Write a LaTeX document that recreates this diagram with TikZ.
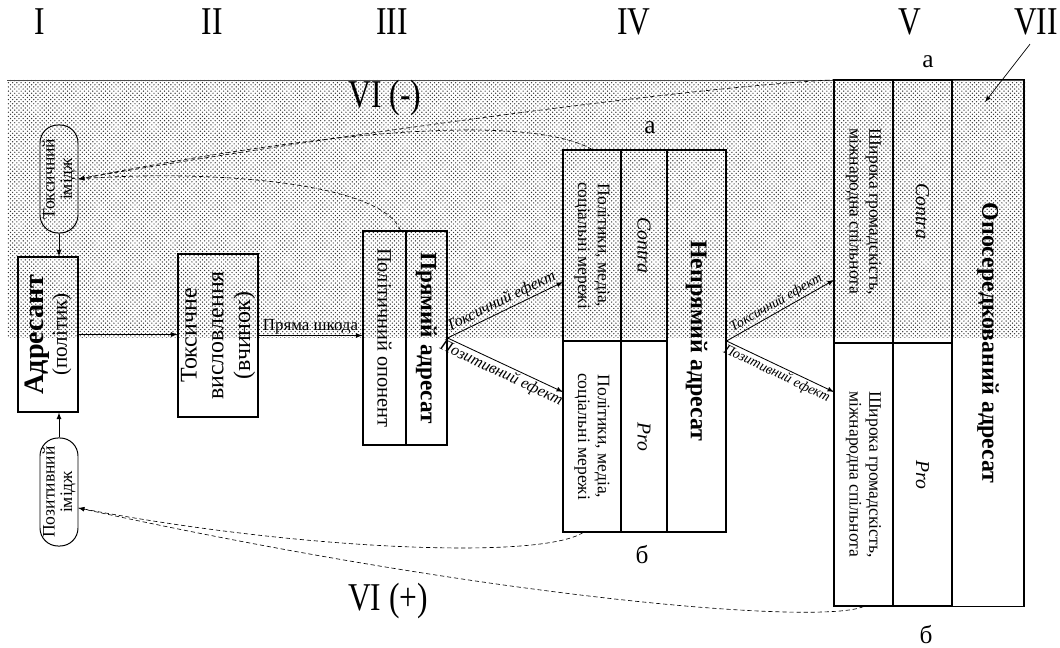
\documentclass[tikz,border=0pt]{standalone}
\usepackage{fontspec}
\setmainfont{Liberation Serif}
\usetikzlibrary{patterns,calc}

\tikzset{
  box/.style={draw, line width=0.8pt, inner sep=0pt},
  oval/.style={draw, line width=0.7pt, rounded corners=0.45cm, inner sep=0pt,
    minimum width=0.95cm, minimum height=2.7cm},
  up/.style={rotate=90, align=center, inner sep=0pt},
  down/.style={rotate=-90, align=center, inner sep=0pt},
  flow/.style={-latex, line width=0.6pt},
  feedback/.style={-latex, densely dashed, line width=0.45pt},
  numeral/.style={font=\fontsize{28}{30}\selectfont},
  letter/.style={font=\fontsize{18}{20}\selectfont},
  effect/.style={sloped, inner sep=1pt, font=\fontsize{11.5}{12}\selectfont\itshape},
  effectsmall/.style={sloped, inner sep=1pt, font=\fontsize{10}{11}\selectfont\itshape}
}

\begin{document}
\begin{tikzpicture}[x=0.025cm, y=-0.025cm]
  \useasboundingbox (0,0) rectangle (1060,648);

  % shaded zone (toxic side)
  \fill[pattern=crosshatch dots, pattern color=black!80] (7,80) rectangle (1025,338);
  \draw[black!70, line width=0.6pt] (7,80) -- (1025,80);

  % stage numbers
  \node[numeral] (n1) at (40,22) {\scalebox{0.8}[1]{I}};
  \node[numeral] (n2) at (212,22) {\scalebox{0.8}[1]{II}};
  \node[numeral] (n3) at (392,22) {\scalebox{0.8}[1]{III}};
  \node[numeral] (n4) at (634,22) {\scalebox{0.8}[1]{IV}};
  \node[numeral] (n5) at (910,22) {\scalebox{0.8}[1]{V}};
  \node[numeral] (n7) at (1036,22) {\scalebox{0.8}[1]{VII}};
  \node[numeral] (n6minus) at (385,98) {\scalebox{0.8}[1]{VI (-)}};
  \node[numeral] (n6plus) at (388,601) {\scalebox{0.8}[1]{VI (+)}};

  % addresser and images
  \node[box, minimum width=1.5cm, minimum height=3.875cm] (adr) at (48,334.5) {};
  \node[up, font=\fontsize{15}{17}\selectfont] (adrtext) at (adr) {{\fontsize{20}{17}\selectfont\bfseries Адресант}\\(політик)};
  \node[oval] (tox) at (59,179) {};
  \node[up, font=\fontsize{12.5}{12.5}\selectfont] (toxtext) at (tox) {Токсичний\\імідж};
  \node[oval] (pos) at (59,492) {};
  \node[up, font=\fontsize{12.5}{12.5}\selectfont] (postext) at (pos) {Позитивний\\імідж};

  % toxic statement
  \node[box, minimum width=2cm, minimum height=4.075cm] (stmt) at (218,335.5) {};
  \node[up, font=\fontsize{17}{19}\selectfont] (stmttext) at (stmt) {Токсичне\\висловлення\\(вчинок)};

  % direct addressee
  \node[box, minimum width=1.075cm, minimum height=5.35cm] (dirL) at (384.5,338) {};
  \node[box, minimum width=1.025cm, minimum height=5.35cm] (dirR) at (426.5,338) {};
  \node[down, font=\fontsize{14.5}{16}\selectfont] (dirLtext) at (dirL) {Політичний опонент};
  \node[down, font=\fontsize{16.5}{18}\selectfont\bfseries] (dirRtext) at (dirR) {Прямий адресат};

  % indirect addressee
  \node[box, minimum width=1.45cm, minimum height=4.775cm] (ivTL) at (592,245.5) {};
  \node[box, minimum width=1.45cm, minimum height=4.775cm] (ivBL) at (592,436.5) {};
  \node[box, minimum width=1.15cm, minimum height=4.775cm] (ivTC) at (644,245.5) {};
  \node[box, minimum width=1.15cm, minimum height=4.775cm] (ivBC) at (644,436.5) {};
  \node[box, minimum width=1.475cm, minimum height=9.55cm] (ivR) at (696.5,341) {};
  \node[down, font=\fontsize{12.5}{14}\selectfont] (ivTLtext) at (ivTL) {Політики, медіа,\\соціальні мережі};
  \node[down, font=\fontsize{12.5}{14}\selectfont] (ivBLtext) at (ivBL) {Політики, медіа,\\соціальні мережі};
  \node[down, font=\fontsize{14}{16}\selectfont\itshape] (ivTCtext) at (ivTC) {Contra};
  \node[down, font=\fontsize{14}{16}\selectfont\itshape] (ivBCtext) at (ivBC) {Pro};
  \node[down, font=\fontsize{17}{19}\selectfont\bfseries] (ivRtext) at (ivR) {Непрямий адресат};
  \node[letter] (ivA) at (650,128) {а};
  \node[letter] (ivB) at (642,555) {б};

  % mediated addressee
  \node[box, minimum width=1.475cm, minimum height=6.575cm] (vTL) at (863.5,211.5) {};
  \node[box, minimum width=1.475cm, minimum height=6.575cm] (vBL) at (863.5,474.5) {};
  \node[box, minimum width=1.475cm, minimum height=6.575cm] (vTC) at (922.5,211.5) {};
  \node[box, minimum width=1.475cm, minimum height=6.575cm] (vBC) at (922.5,474.5) {};
  \node[box, minimum width=1.8cm, minimum height=13.15cm] (vR) at (988,343) {};
  \node[down, font=\fontsize{12.5}{14}\selectfont] (vTLtext) at (vTL) {Широка громадскість,\\міжнародна спільнота};
  \node[down, font=\fontsize{12.5}{14}\selectfont] (vBLtext) at (vBL) {Широка громадскість,\\міжнародна спільнота};
  \node[down, font=\fontsize{14}{16}\selectfont\itshape] (vTCtext) at (vTC) {Contra};
  \node[down, font=\fontsize{14}{16}\selectfont\itshape] (vBCtext) at (vBC) {Pro};
  \node[down, font=\fontsize{17}{19}\selectfont\bfseries] (vRtext) at (vR) {Опосередкований адресат};
  \node[letter] (vA) at (928,62) {а};
  \node[letter] (vB) at (926,635) {б};

  % free ends of the effect arrows
  \coordinate (ivtox) at (563,282);
  \coordinate (ivpos) at (563,392);
  \coordinate (vtox) at (834,280);
  \coordinate (vpos) at (834,392);
  \coordinate (viitip) at (985,102);

  % main chain
  \draw[flow] (tox.south) -- (tox.south |- adr.north);
  \draw[flow] (pos.north) -- (pos.north |- adr.south);
  \draw[flow] (adr.east) -- (adr.east -| stmt.west);
  \draw[flow] (stmt.east) -- node[above, inner sep=1pt, font=\fontsize{12}{13}\selectfont] {Пряма шкода} (stmt.east -| dirL.west);
  \draw[flow] (dirR.east) -- node[effect, above] {Токсичний ефект} (ivtox);
  \draw[flow] (dirR.east) -- node[effect, below] {Позитивний ефект} (ivpos);
  \draw[flow] (ivR.east) -- node[effectsmall, above] {Токсичний ефект} (vtox);
  \draw[flow] (ivR.east) -- node[effectsmall, below] {Позитивний ефект} (vpos);
  \draw[-latex, line width=0.5pt] ($(n7.south)+(-6,4)$) -- (viitip);

  % feedback to the images
  \draw[feedback] ($(dirL.north east)+(-6,0)$) .. controls (380,180) and (200,170) .. (tox.east);
  \draw[feedback] (ivTL.north) .. controls (540,120) and (380,120) .. (tox.east);
  \draw[feedback] ($(vTL.north west)+(10,0)$) .. controls (700,85) and (300,140) .. (tox.east);
  \draw[feedback] ($(ivBL.south)+(-9,0)$) .. controls (540,560) and (300,550) .. ($(pos.east)+(0,16)$);
  \draw[feedback] (vBL.south) .. controls (820,625) and (500,600) .. ($(pos.east)+(0,16)$);
\end{tikzpicture}
\end{document}
